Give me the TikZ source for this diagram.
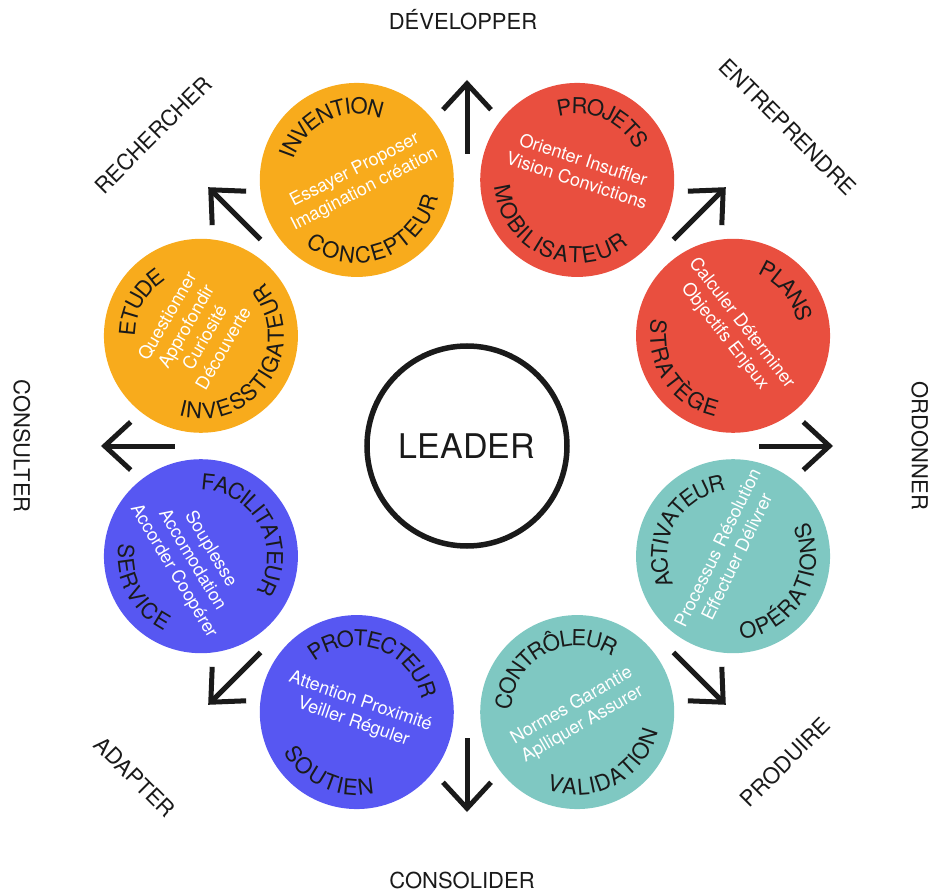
\documentclass[tikz,border=0pt]{standalone}
\usepackage{fontspec}
\setmainfont{TeX Gyre Heros}
\usetikzlibrary{arrows.meta, positioning, decorations.text}

\definecolor{ochre}{HTML}{F8AB1C}
\definecolor{tomato}{HTML}{E94F3F}
\definecolor{lagoon}{HTML}{7FC8C2}
\definecolor{iris}{HTML}{5757F2}
\definecolor{ink}{HTML}{1A1A1A}

\newcommand{\wordfont}{\fontsize{22}{26}\selectfont}

\begin{document}
\begin{tikzpicture}[x=1pt, y=1pt,
        petal/.style   = {circle, minimum size=194pt, inner sep=0pt},
        inner/.style   = {text=white, align=center, font=\fontsize{18}{21.5}\selectfont},
        verb/.style    = {text=ink, inner sep=0pt, font=\fontsize{22}{26}\selectfont},
        % words on the rim, spaced at mid height of the letters
        toparc/.style  = {decorate, decoration={text along path, text align=center,
                          raise=-8pt, text color=ink, text={|\wordfont|#1}}},
        botarc/.style  = {decorate, decoration={text along path, text align=center,
                          raise=-8pt, text color=ink, text={|\wordfont|#1}}},
        fleche/.style  = {draw=ink, line width=5pt,
                          -{Straight Barb[length=26pt, width=48pt, line width=5pt]}}]

    \useasboundingbox (-467pt,-445pt) rectangle (461pt,446pt);

    % centre of the wheel
    \node[draw=ink, line width=5.5pt, circle, minimum size=200pt,
          font=\fontsize{34}{40}\selectfont, text=ink] (lead) at (0,0) {LEADER};

    % the eight petals around the centre
    \node[petal, fill=ochre]  (inv)  at (112.5:288pt) {};
    \node[petal, fill=tomato] (proj) at (67.5:288pt) {};
    \node[petal, fill=tomato] (plan) at (22.5:288pt) {};
    \node[petal, fill=lagoon] (acti) at (-22.5:288pt) {};
    \node[petal, fill=lagoon] (ctrl) at (-67.5:288pt) {};
    \node[petal, fill=iris]   (prot) at (-112.5:288pt) {};
    \node[petal, fill=iris]   (faci) at (-157.5:288pt) {};
    \node[petal, fill=ochre]  (etud) at (157.5:288pt) {};

    % words along the rim of each petal
    \path[toparc=INVENTION] (inv.center) ++(205.5:74pt) arc[start angle=205.5, end angle=25.5, radius=74pt];
    \path[botarc=CONCEPTEUR] (inv.center) ++(-160:75pt) arc[start angle=-160, end angle=20, radius=75pt];

    \path[toparc=PROJETS] (proj.center) ++(156.5:74pt) arc[start angle=156.5, end angle=-23.5, radius=74pt];
    \path[botarc=MOBILISATEUR] (proj.center) ++(-203.5:75pt) arc[start angle=-203.5, end angle=-23.5, radius=75pt];

    \path[toparc=PLANS] (plan.center) ++(130:74pt) arc[start angle=130, end angle=-50, radius=74pt];
    \path[botarc=STRATÈGE] (plan.center) ++(123:75pt) arc[start angle=123, end angle=303, radius=75pt];

    \path[toparc=ACTIVATEUR] (acti.center) ++(241:74pt) arc[start angle=241, end angle=61, radius=74pt];
    \path[botarc=OPÉRATIONS] (acti.center) ++(-120:75pt) arc[start angle=-120, end angle=60, radius=75pt];

    \path[toparc=CONTRÔLEUR] (ctrl.center) ++(208:74pt) arc[start angle=208, end angle=28, radius=74pt];
    \path[botarc=VALIDATION] (ctrl.center) ++(-152.5:75pt) arc[start angle=-152.5, end angle=27.5, radius=75pt];

    \path[toparc=PROTECTEUR] (prot.center) ++(160.5:74pt) arc[start angle=160.5, end angle=-19.5, radius=74pt];
    \path[botarc=SOUTIEN] (prot.center) ++(155.5:75pt) arc[start angle=155.5, end angle=335.5, radius=75pt];

    \path[toparc=FACILITATEUR] (faci.center) ++(119:74pt) arc[start angle=119, end angle=-61, radius=74pt];
    \path[botarc=SERVICE] (faci.center) ++(117.5:75pt) arc[start angle=117.5, end angle=297.5, radius=75pt];

    \path[toparc=ETUDE] (etud.center) ++(241:74pt) arc[start angle=241, end angle=61, radius=74pt];
    \path[botarc=INVESSTIGATEUR] (etud.center) ++(-122.5:75pt) arc[start angle=-122.5, end angle=57.5, radius=75pt];

    % white key words inside the petals
    \node[inner, rotate=27]  (inv-in)  at ([xshift=3pt]inv.center) {Essayer Proposer\\Imagination création};
    \node[inner, rotate=-18] (proj-in) at ([xshift=3pt, yshift=10pt]proj.center) {Orienter Insuffler\\Vision Convictions};
    \node[inner, rotate=-52] (plan-in) at ([yshift=6pt]plan.center) {Calculer Déterminer\\Objectifs Enjeux};
    \node[inner, rotate=64]  (acti-in) at ([xshift=-6pt, yshift=4pt]acti.center) {Processus Résolution\\Effectuer Délivrer};
    \node[inner, rotate=30]  (ctrl-in) at ([yshift=-3pt]ctrl.center) {Normes Garantie\\Aplliquer Assurer};
    \node[inner, rotate=-19] (prot-in) at (prot.center) {Attention Proximité\\Veiller Réguler};
    \node[inner, rotate=-59] (faci-in) at ([xshift=-9pt, yshift=-4pt]faci.center) {Souplesse\\Accomodation\\Accorder Coopérer};
    \node[inner, rotate=60]  (etud-in) at ([xshift=-6pt, yshift=4pt]etud.center) {Questionner\\Approfondir\\Curiosité\\Découverte};

    % arrows pointing out between the petals
    \foreach \a in {0,45,...,315} {
        \coordinate (s\a) at (\a:292pt);
        \coordinate (e\a) at (\a:366pt);
        \draw[fleche] (s\a) -- (e\a);
    }

    % verbs on the outside
    \node[verb] (dev) at (-4pt,426pt) {DÉVELOPPER};
    \node[verb] (cons) at (-5pt,-434pt) {CONSOLIDER};
    \node[verb, rotate=-90] (consu) at (-445pt,0pt) {CONSULTER};
    \node[verb, rotate=-90] (ordo) at (453pt,0pt) {ORDONNER};
    \node[verb, rotate=45] (rech) at (-314pt,311pt) {RECHERCHER};
    \node[verb, rotate=-45] (entr) at (321pt,319pt) {ENTREPRENDRE};
    \node[verb, rotate=-45] (adap) at (-332pt,-331pt) {ADAPTER};
    \node[verb, rotate=45] (prod) at (318pt,-316pt) {PRODUIRE};

\end{tikzpicture}
\end{document}
